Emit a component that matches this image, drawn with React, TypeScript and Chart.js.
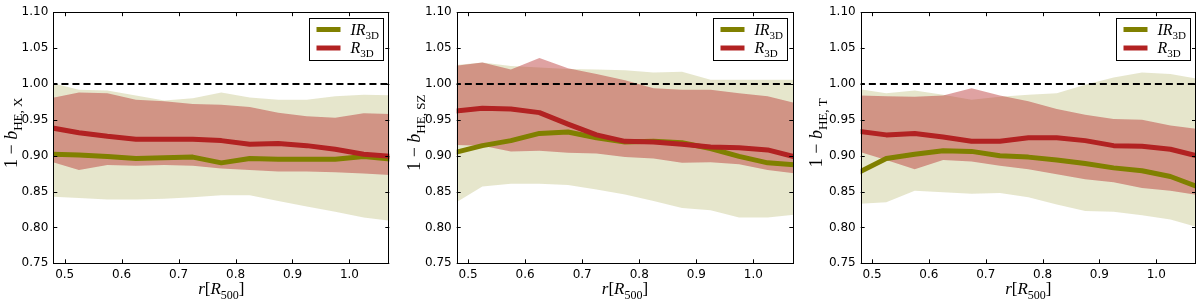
import React, { useEffect, useRef } from "react";
import { Chart, registerables } from "chart.js";

Chart.register(...registerables);

// ---------- data ----------
const radii = [0.475, 0.525, 0.575, 0.625, 0.675, 0.725, 0.775, 0.825, 0.875, 0.925, 0.975, 1.025, 1.075];
const xTicks = [0.5, 0.6, 0.7, 0.8, 0.9, 1.0];
const xTickLabels = ["0.5", "0.6", "0.7", "0.8", "0.9", "1.0"];
const yTicks = [0.75, 0.8, 0.85, 0.9, 0.95, 1.0, 1.05, 1.1];
const yTickLabels = ["0.75", "0.80", "0.85", "0.90", "0.95", "1.00", "1.05", "1.10"];
const refLevel = 1.0;

// Panel X
const xR = [0.939, 0.932, 0.927, 0.923, 0.923, 0.923, 0.921, 0.916, 0.917, 0.914, 0.909, 0.902, 0.899];
const xRHi = [0.98, 0.988, 0.987, 0.978, 0.976, 0.972, 0.971, 0.968, 0.96, 0.955, 0.953, 0.959, 0.958];
const xRLo = [0.892, 0.88, 0.887, 0.886, 0.887, 0.886, 0.882, 0.88, 0.878, 0.878, 0.877, 0.875, 0.873];
const xIR = [0.902, 0.901, 0.899, 0.896, 0.897, 0.898, 0.89, 0.896, 0.895, 0.895, 0.895, 0.899, 0.895];
const xIRHi = [1.002, 0.992, 0.991, 0.984, 0.977, 0.98, 0.988, 0.981, 0.978, 0.978, 0.983, 0.985, 0.984];
const xIRLo = [0.843, 0.841, 0.839, 0.839, 0.84, 0.842, 0.845, 0.845, 0.837, 0.829, 0.822, 0.814, 0.809];

// Panel SZ
const szR = [0.962, 0.966, 0.965, 0.96, 0.944, 0.929, 0.92, 0.919, 0.916, 0.912, 0.911, 0.908, 0.898];
const szRHi = [1.025, 1.03, 1.02, 1.036, 1.022, 1.014, 1.005, 0.994, 0.992, 0.992, 0.987, 0.983, 0.973];
const szRLo = [0.915, 0.914, 0.906, 0.907, 0.904, 0.903, 0.898, 0.896, 0.89, 0.891, 0.888, 0.88, 0.875];
const szIR = [0.904, 0.914, 0.921, 0.931, 0.933, 0.925, 0.919, 0.92, 0.918, 0.91, 0.899, 0.89, 0.887];
const szIRHi = [1.026, 1.03, 1.025, 1.023, 1.021, 1.02, 1.019, 1.016, 1.017, 1.006, 1.006, 1.006, 1.006];
const szIRLo = [0.833, 0.857, 0.861, 0.861, 0.859, 0.853, 0.846, 0.837, 0.827, 0.824, 0.814, 0.814, 0.818];

// Panel T
const tR = [0.934, 0.929, 0.931, 0.926, 0.92, 0.92, 0.925, 0.925, 0.921, 0.914, 0.913, 0.909, 0.899];
const tRHi = [0.984, 0.983, 0.982, 0.984, 0.994, 0.984, 0.976, 0.965, 0.957, 0.951, 0.95, 0.942, 0.937];
const tRLo = [0.906, 0.894, 0.881, 0.894, 0.892, 0.886, 0.881, 0.874, 0.867, 0.863, 0.855, 0.851, 0.845];
const tIR = [0.876, 0.896, 0.902, 0.907, 0.906, 0.9, 0.898, 0.894, 0.889, 0.883, 0.879, 0.871, 0.856];
const tIRHi = [0.993, 0.987, 0.991, 0.985, 0.978, 0.982, 0.985, 0.987, 0.999, 1.009, 1.016, 1.014, 1.007];
const tIRLo = [0.833, 0.835, 0.851, 0.849, 0.847, 0.848, 0.842, 0.832, 0.823, 0.822, 0.817, 0.811, 0.8];

const X_MIN = 0.48;
const X_MAX = 1.07;
const Y_MIN = 0.75;
const Y_MAX = 1.1;

const OLIVE = "#808000";
const RED = "#b22222";
const OLIVE_BAND = "rgba(128,128,0,0.2)";
const RED_BAND = "rgba(178,34,34,0.42)";

type Seg = { t: string; it?: boolean; sub?: boolean };

const SERIF = "'Liberation Serif', 'DejaVu Serif', serif";

function segFont(s: Seg, size: number, subSize: number) {
  return `${s.it ? "italic " : ""}${s.sub ? subSize : size}px ${SERIF}`;
}

function drawRich(ctx: CanvasRenderingContext2D, segs: Seg[], x: number, y: number, size: number, subSize: number, align: "center" | "left") {
  let total = 0;
  for (const s of segs) {
    ctx.font = segFont(s, size, subSize);
    total += ctx.measureText(s.t).width;
  }
  let cx = align === "center" ? x - total / 2 : x;
  ctx.textAlign = "left";
  ctx.textBaseline = "alphabetic";
  for (const s of segs) {
    ctx.font = segFont(s, size, subSize);
    ctx.fillText(s.t, cx, y + (s.sub ? size * 0.28 : 0));
    cx += ctx.measureText(s.t).width;
  }
}

type PanelDef = {
  left: number;
  plotLeft: number;
  padRight: number;
  titleX: number;
  sub: string;
  r: number[];
  rHi: number[];
  rLo: number[];
  ir: number[];
  irHi: number[];
  irLo: number[];
};

const panels: PanelDef[] = [
  { left: 0, plotLeft: 53.3, padRight: 10.7, titleX: 11, sub: "HE, X", r: xR, rHi: xRHi, rLo: xRLo, ir: xIR, irHi: xIRHi, irLo: xIRLo },
  { left: 400, plotLeft: 56.7, padRight: 6.7, titleX: 13.5, sub: "HE, SZ", r: szR, rHi: szRHi, rLo: szRLo, ir: szIR, irHi: szIRHi, irLo: szIRLo },
  { left: 800, plotLeft: 60.7, padRight: 4, titleX: 16, sub: "HE, T", r: tR, rHi: tRHi, rLo: tRLo, ir: tIR, irHi: tIRHi, irLo: tIRLo },
];

function Panel({ p }: { p: PanelDef }) {
  const ref = useRef<HTMLCanvasElement>(null);
  useEffect(() => {
    const mk = (arr: number[]) => radii.map((x, i) => ({ x, y: arr[i] }));
    const lineBase = { pointRadius: 0, clip: 0, tension: 0, borderJoinStyle: "round" as const, fill: false };
    const bandBase = { pointRadius: 0, clip: 0, tension: 0, borderWidth: 0, borderColor: "rgba(0,0,0,0)" };

    const overlay = {
      id: "overlay",
      afterDraw(chart: any) {
        const ctx: CanvasRenderingContext2D = chart.ctx;
        const { left, right, top, bottom } = chart.chartArea;
        const xs = chart.scales.x;
        const ys = chart.scales.y;
        ctx.save();
        // inward ticks
        ctx.strokeStyle = "#000";
        ctx.lineWidth = 1;
        ctx.beginPath();
        for (const v of xTicks) {
          const px = Math.round(xs.getPixelForValue(v)) + 0.5;
          ctx.moveTo(px, bottom);
          ctx.lineTo(px, bottom - 4);
          ctx.moveTo(px, top);
          ctx.lineTo(px, top + 4);
        }
        for (const v of yTicks) {
          const py = Math.round(ys.getPixelForValue(v)) + 0.5;
          ctx.moveTo(left, py);
          ctx.lineTo(left + 4, py);
          ctx.moveTo(right, py);
          ctx.lineTo(right - 4, py);
        }
        ctx.stroke();
        // frame
        ctx.strokeRect(Math.round(left) + 0.5, Math.round(top) + 0.5, Math.round(right - left) - 1, Math.round(bottom - top));

        // legend
        const bw = 74;
        const bh = 42;
        const bx = Math.round(right - 6 - bw) + 0.5;
        const by = Math.round(top + 6) + 0.5;
        ctx.fillStyle = "#fff";
        ctx.fillRect(bx, by, bw, bh);
        ctx.strokeStyle = "#000";
        ctx.lineWidth = 1;
        ctx.strokeRect(bx, by, bw, bh);
        const rows = [
          { color: OLIVE, segs: [{ t: "IR", it: true }, { t: "3D", sub: true }] as Seg[] },
          { color: RED, segs: [{ t: "R", it: true }, { t: "3D", sub: true }] as Seg[] },
        ];
        rows.forEach((row, i) => {
          const cy = by + 11 + i * 18.5;
          ctx.strokeStyle = row.color;
          ctx.lineWidth = 5;
          ctx.lineCap = "butt";
          ctx.beginPath();
          ctx.moveTo(bx + 7, cy);
          ctx.lineTo(bx + 31, cy);
          ctx.stroke();
          ctx.fillStyle = "#000";
          drawRich(ctx, row.segs, bx + 41, cy + 5, 16, 11, "left");
        });

        // x title
        ctx.fillStyle = "#000";
        drawRich(
          ctx,
          [{ t: "r", it: true }, { t: "[" }, { t: "R", it: true }, { t: "500", sub: true }, { t: "]" }],
          (left + right) / 2,
          294,
          17,
          12,
          "center"
        );
        // y title
        ctx.save();
        ctx.translate(p.titleX, (top + bottom) / 2 - 5);
        ctx.rotate(-Math.PI / 2);
        drawRich(ctx, [{ t: "1 \u2212 " }, { t: "b", it: true }, { t: p.sub, sub: true }], 0, 6, 18, 13, "center");
        ctx.restore();
        ctx.restore();
      },
    };

    const chart = new Chart(ref.current as HTMLCanvasElement, {
      type: "line",
      data: {
        datasets: [
          { ...lineBase, label: "R3D", data: mk(p.r), borderColor: RED, borderWidth: 5 },
          { ...lineBase, label: "IR3D", data: mk(p.ir), borderColor: OLIVE, borderWidth: 5 },
          { ...lineBase, label: "ref", data: radii.map((x) => ({ x, y: refLevel })), borderColor: "#000", borderWidth: 2, borderDash: [7, 4] },
          { ...bandBase, label: "R hi", data: mk(p.rHi), fill: 4, backgroundColor: RED_BAND },
          { ...bandBase, label: "R lo", data: mk(p.rLo), fill: false },
          { ...bandBase, label: "IR hi", data: mk(p.irHi), fill: 6, backgroundColor: OLIVE_BAND },
          { ...bandBase, label: "IR lo", data: mk(p.irLo), fill: false },
        ] as any,
      },
      options: {
        animation: false,
        responsive: false,
        maintainAspectRatio: false,
        events: [],
        layout: { padding: { left: 0, right: p.padRight, top: 7.3, bottom: 0 } },
        plugins: { legend: { display: false }, tooltip: { enabled: false } },
        scales: {
          x: {
            type: "linear",
            min: X_MIN,
            max: X_MAX,
            grid: { display: false, drawTicks: false },
            border: { display: false },
            afterBuildTicks: (s: any) => {
              s.ticks = xTicks.map((v) => ({ value: v }));
            },
            afterFit: (s: any) => {
              s.height = 37.7;
            },
            ticks: {
              autoSkip: false,
              maxRotation: 0,
              padding: 4,
              color: "#000",
              font: { family: "'DejaVu Sans'", size: 12 },
              callback: (_v: any, i: number) => xTickLabels[i],
            },
          },
          y: {
            type: "linear",
            min: Y_MIN,
            max: Y_MAX,
            grid: { display: false, drawTicks: false },
            border: { display: false },
            afterBuildTicks: (s: any) => {
              s.ticks = yTicks.map((v) => ({ value: v }));
            },
            afterFit: (s: any) => {
              s.width = p.plotLeft;
            },
            ticks: {
              autoSkip: false,
              padding: 5,
              color: "#000",
              font: { family: "'DejaVu Sans'", size: 12 },
              callback: (_v: any, i: number) => yTickLabels[i],
            },
          },
        },
      },
      plugins: [overlay],
    });
    return () => chart.destroy();
  }, [p]);
  return (
    <canvas
      ref={ref}
      width={400}
      height={301}
      style={{ position: "absolute", left: p.left, top: 0, width: 400, height: 301 }}
    />
  );
}

export default function App() {
  return (
    <div style={{ position: "absolute", left: 0, top: 0, width: 1200, height: 301, background: "#fff" }}>
      {panels.map((p, i) => (
        <Panel key={i} p={p} />
      ))}
    </div>
  );
}
